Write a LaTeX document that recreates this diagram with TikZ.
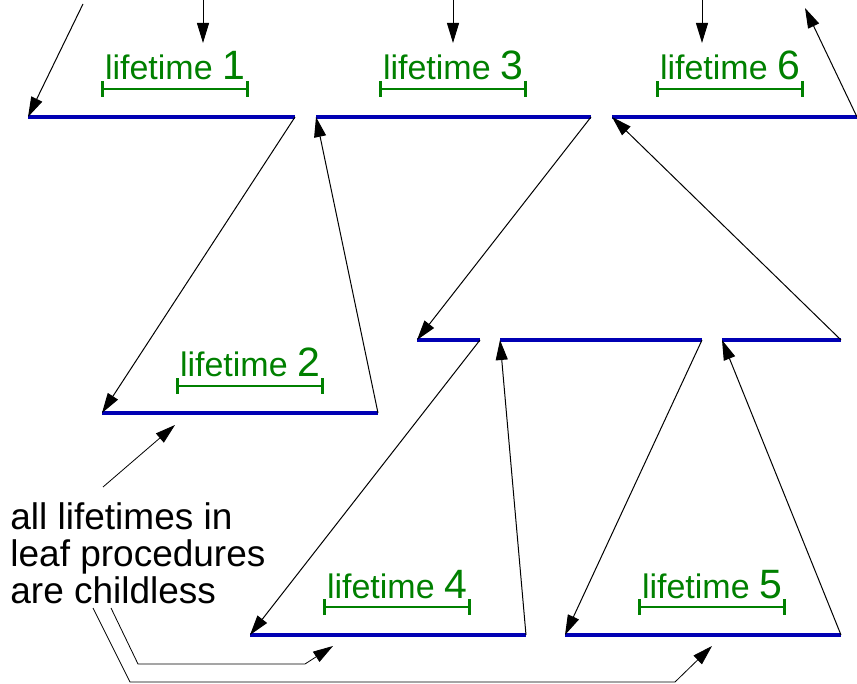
\documentclass[tikz,border=0pt]{standalone}
\usepackage{fontspec}
\setmainfont{Liberation Sans}
\usetikzlibrary{arrows.meta,calc}
\definecolor{LifeBlue}{RGB}{0,0,180}
\definecolor{LifeGreen}{RGB}{0,128,0}
\tikzset{
  life bar/.style={
    draw=LifeBlue,
    line width=2pt,
  },
  call arrow/.style={
    draw,
    line width=0.5pt,
    -{Triangle[length=10pt,width=6pt]},
  },
  note arrow/.style={
    call arrow,
    line width=0.4pt,
  },
  span bar/.style={
    draw=LifeGreen,
    line width=1.4pt,
    {Bar[width=8pt]}-{Bar[width=8pt]},
  },
  span label/.style={
    LifeGreen,
    anchor=base,
    inner sep=0pt,
    font=\fontsize{17}{20}\selectfont,
  },
  note text/.style={
    align=left,
    inner sep=0pt,
    anchor=north west,
    font=\fontsize{18.5}{18.5}\selectfont,
  },
}
\newcommand{\spannum}[1]{\fontsize{20.5}{24}\selectfont #1}

\begin{document}
\begin{tikzpicture}[x=0.5pt,y=-0.5pt]
  \useasboundingbox (0,0) rectangle (857,684);
  % lifetimes
  \coordinate (a1) at (28,117);  \coordinate (a2) at (295,117);
  \coordinate (b1) at (316,117); \coordinate (b2) at (591,117);
  \coordinate (c1) at (612,117); \coordinate (c2) at (857,117);
  \coordinate (d1) at (102,413); \coordinate (d2) at (378,413);
  \coordinate (e1) at (417,340); \coordinate (e2) at (480,340);
  \coordinate (f1) at (500,340); \coordinate (f2) at (702,340);
  \coordinate (g1) at (722,340); \coordinate (g2) at (841,340);
  \coordinate (h1) at (250,635); \coordinate (h2) at (526,635);
  \coordinate (k1) at (565,635); \coordinate (k2) at (841,635);
  \foreach \s/\e in {a1/a2,b1/b2,c1/c2,d1/d2,e1/e2,f1/f2,g1/g2,h1/h2,k1/k2}
    \draw[life bar] (\s) -- (\e);
  % spans
  \coordinate (s1l) at (101,89); \coordinate (s1r) at (249,89);
  \coordinate (s2l) at (176,386); \coordinate (s2r) at (324,386);
  \coordinate (s3l) at (379,89); \coordinate (s3r) at (527,89);
  \coordinate (s4l) at (323,607); \coordinate (s4r) at (471,607);
  \coordinate (s5l) at (638,607); \coordinate (s5r) at (786,607);
  \coordinate (s6l) at (656,89); \coordinate (s6r) at (804,89);
  \draw[span bar] (s1l) -- (s1r);
  \draw[span bar] (s2l) -- (s2r);
  \draw[span bar] (s3l) -- (s3r);
  \draw[span bar] (s4l) -- (s4r);
  \draw[span bar] (s5l) -- (s5r);
  \draw[span bar] (s6l) -- (s6r);
  \node[span label] (t1) at ([yshift=4.5pt]$(s1l)!0.5!(s1r)$) {lifetime \spannum{1}};
  \node[span label] (t2) at ([yshift=4.5pt]$(s2l)!0.5!(s2r)$) {lifetime \spannum{2}};
  \node[span label] (t3) at ([yshift=4.5pt]$(s3l)!0.5!(s3r)$) {lifetime \spannum{3}};
  \node[span label] (t4) at ([yshift=4.5pt]$(s4l)!0.5!(s4r)$) {lifetime \spannum{4}};
  \node[span label] (t5) at ([yshift=4.5pt]$(s5l)!0.5!(s5r)$) {lifetime \spannum{5}};
  \node[span label] (t6) at ([yshift=4.5pt]$(s6l)!0.5!(s6r)$) {lifetime \spannum{6}};
  % calls and returns
  \coordinate (in0) at (83,4);
  \coordinate (in1) at (203,0);  \coordinate (in1e) at (203,43);
  \coordinate (in3) at (453,0);  \coordinate (in3e) at (453,43);
  \coordinate (in6) at (702,0);  \coordinate (in6e) at (702,43);
  \coordinate (out6) at (805,8);
  \draw[call arrow] (in0) -- (a1);
  \draw[call arrow] (in1) -- (in1e);
  \draw[call arrow] (in3) -- (in3e);
  \draw[call arrow] (in6) -- (in6e);
  \draw[call arrow] (c2) -- (out6);
  \draw[call arrow] (a2) -- (d1);
  \draw[call arrow] (d2) -- (b1);
  \draw[call arrow] (b2) -- (e1);
  \draw[call arrow] (g2) -- (c1);
  \draw[call arrow] (e2) -- (h1);
  \draw[call arrow] (h2) -- (f1);
  \draw[call arrow] (f2) -- (k1);
  \draw[call arrow] (k2) -- (g1);
  % note
  \node[note text] (note) at (10,502) {all lifetimes in\\leaf procedures\\are childless};
  \coordinate (n2a) at (103,487); \coordinate (n2b) at (175,425);
  \coordinate (n4a) at (111,608); \coordinate (n4b) at (138,664);
  \coordinate (n4c) at (305,664); \coordinate (n4d) at (333,646);
  \coordinate (n5a) at (93,608);  \coordinate (n5b) at (130,682);
  \coordinate (n5c) at (675,682); \coordinate (n5d) at (712,646);
  \draw[note arrow] (n2a) -- (n2b);
  \draw[note arrow] (n4a) -- (n4b) -- (n4c) -- (n4d);
  \draw[note arrow] (n5a) -- (n5b) -- (n5c) -- (n5d);
\end{tikzpicture}
\end{document}
